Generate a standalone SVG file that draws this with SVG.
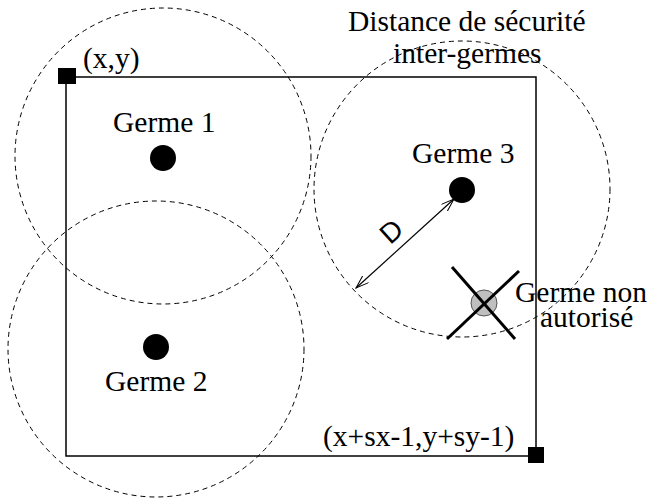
<svg xmlns="http://www.w3.org/2000/svg" width="652" height="498" viewBox="0 0 652 498">
<style>
.zone{fill:none;stroke:#000;stroke-width:1;stroke-dasharray:5 4}
.seed{fill:#000}
.t{font-family:"Liberation Serif","Times New Roman",serif;font-size:29.5px;fill:#000}
.d{font-family:"Liberation Sans",Arial,sans-serif;font-size:28px;fill:#000}
</style>
<defs>
<marker id="ah" viewBox="0 0 14 10" refX="13" refY="5" markerWidth="14" markerHeight="10" markerUnits="userSpaceOnUse" orient="auto-start-reverse">
<path d="M0,0.5 L13,5 L0,9.5" fill="none" stroke="#000" stroke-width="1"/>
</marker>
</defs>
<g id="domain">
<rect x="66" y="77" width="470" height="379" fill="none" stroke="#000" stroke-width="1.5"/>
<rect x="58" y="68" width="18" height="16" fill="#000"/>
<rect x="528" y="447" width="16" height="16" fill="#000"/>
<text class="t" x="83" y="68">(x,y)</text>
<text class="t" x="323" y="446">(x+sx-1,y+sy-1)</text>
</g>
<g id="zones">
<circle class="zone" cx="163" cy="156" r="148"/>
<circle class="zone" cx="156" cy="349" r="148"/>
<circle class="zone" cx="462" cy="189" r="148"/>
</g>
<g id="germe1">
<circle class="seed" cx="163" cy="158" r="13"/>
<text class="t" x="113" y="132">Germe 1</text>
</g>
<g id="germe2">
<circle class="seed" cx="156" cy="347" r="13"/>
<text class="t" x="105" y="391">Germe 2</text>
</g>
<g id="germe3">
<circle class="seed" cx="462" cy="190" r="13"/>
<text class="t" x="412" y="163">Germe 3</text>
</g>
<g id="germe-non-autorise">
<circle cx="484" cy="303" r="13" fill="#bfbfbf" stroke="#555" stroke-width="1"/>
<line x1="452" y1="267" x2="515" y2="339" stroke="#000" stroke-width="3"/>
<line x1="519" y1="271" x2="447" y2="339" stroke="#000" stroke-width="3"/>
<text class="t" x="515" y="302">Germe non</text>
<text class="t" x="540" y="327">autorisé</text>
</g>
<g id="connectors">
<line x1="356" y1="288" x2="454" y2="199" stroke="#000" stroke-width="1.2" marker-start="url(#ah)" marker-end="url(#ah)"/>
<text class="d" text-anchor="middle" transform="translate(391,231) rotate(-42)" y="10">D</text>
</g>
<g id="legend">
<text class="t" x="348" y="31">Distance de sécurité</text>
<text class="t" x="393" y="63">inter-germes</text>
</g>
</svg>
